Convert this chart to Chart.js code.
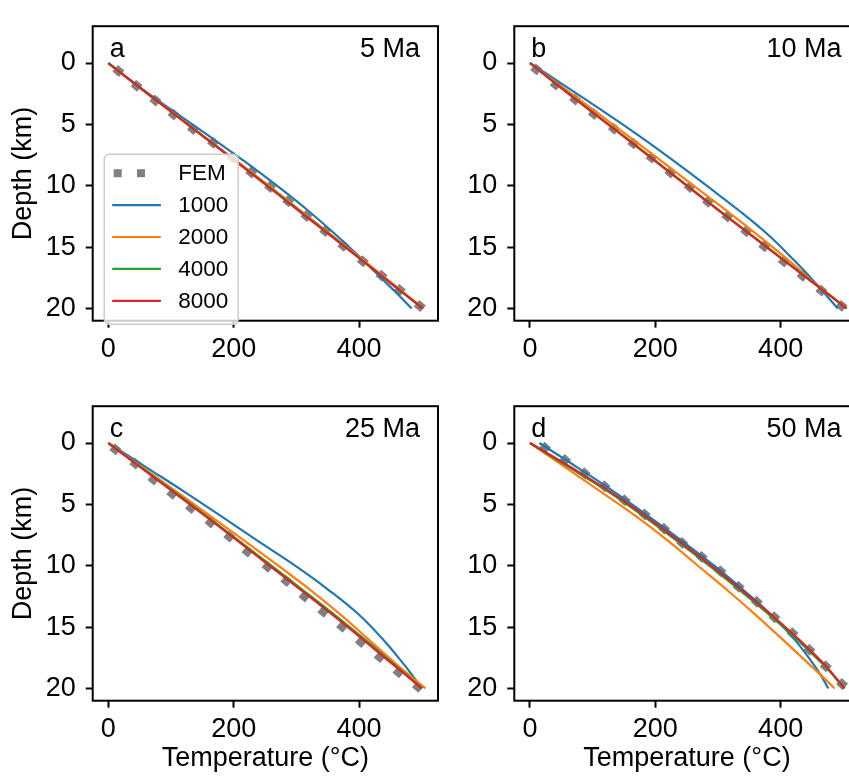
<!DOCTYPE html>
<html>
<head>
<meta charset="utf-8">
<script src="https://cdn.jsdelivr.net/npm/chart.js@4.4.1/dist/chart.umd.min.js"></script>
<style>
  html, body { margin: 0; padding: 0; background: #fff; overflow: hidden; width: 849px; height: 777px; }
  canvas { position: absolute; }
</style>
</head>
<body>
<canvas id="chartA" width="449" height="380" style="left:0px;top:0px"></canvas>
<canvas id="chartB" width="449" height="380" style="left:420px;top:0px"></canvas>
<canvas id="chartC" width="449" height="397" style="left:0px;top:380px"></canvas>
<canvas id="chartD" width="449" height="397" style="left:420px;top:380px"></canvas>
<script>
// depth (km) at which the model curves were read
const depthKm = [0, 2, 4, 6, 8, 10, 12, 14, 16, 18, 19, 20];
const xTicks = [0, 200, 400];
const yTicks = [0, 5, 10, 15, 20];
const seriesLabels = ['1000', '2000', '4000', '8000'];
const seriesColors = ['#1f77b4', '#ff7f0e', '#2ca02c', '#d62728'];

// a - 5 Ma (temperature, °C)
const a1000 = [0, 51, 106, 162, 217, 269, 318, 363, 405, 445, 465, 484];
const a2000 = [0, 50, 102, 153, 205, 256, 306, 356, 405, 454, 478, 503];
const a4000 = [0, 50, 101, 152, 203, 254, 304, 354, 403, 452, 477, 502];
const a8000 = [0, 50, 101, 152, 203, 253, 303, 353, 403, 452, 477, 502];
const aFemDepth = [0.65, 1.85, 3.05, 4.2, 5.38, 6.5, 7.7, 8.92, 10.1, 11.27, 12.47, 13.7, 14.9, 16.15, 17.33, 18.5, 19.8];
const aFemTemp = [16, 45, 75, 104, 135, 167, 198, 228, 258, 287, 316, 346, 375, 406, 436, 465, 497];

// b - 10 Ma
const b1000 = [0, 60, 119, 176, 230, 282, 333, 380, 420, 457, 474, 491];
const b2000 = [0, 53, 106, 158, 210, 261, 313, 363, 411, 456, 481, 506];
const b4000 = [0, 50, 100, 151, 201, 251, 302, 353, 404, 455, 480, 505];
const b8000 = [0, 49, 99, 150, 200, 250, 301, 352, 403, 454, 480, 505];
const bFemDepth = [0.52, 1.76, 2.98, 4.15, 5.36, 6.55, 7.71, 8.93, 10.1, 11.3, 12.5, 13.71, 14.93, 16.17, 17.33, 18.55, 19.79];
const bFemTemp = [10, 41, 72, 102, 134, 165, 194, 224, 255, 284, 315, 345, 374, 405, 435, 465, 497];

// c - 25 Ma
const c1000 = [0, 61, 122, 181, 239, 298, 352, 400, 438, 471, 486, 500];
const c2000 = [0, 55, 110, 164, 218, 271, 323, 371, 415, 459, 482, 506];
const c4000 = [0, 53, 106, 158, 209, 260, 311, 361, 409, 455, 478, 501];
const c8000 = [0, 52, 104, 156, 207, 257, 308, 358, 406, 453, 477, 500];
const cFemDepth = [0.52, 1.68, 2.98, 4.14, 5.3, 6.47, 7.63, 8.85, 10.09, 11.25, 12.5, 13.75, 14.98, 16.22, 17.45, 18.68, 19.87];
const cFemTemp = [11, 43, 72, 102, 132, 163, 193, 222, 254, 284, 313, 343, 373, 403, 433, 463, 494];

// d - 50 Ma
const d1000 = [15, 76, 135, 190, 243, 294, 341, 385, 422, 452, 465, 476];
const d2000 = [0, 57, 114, 170, 221, 268, 315, 360, 403, 445, 466, 486];
const d4000 = [0, 63, 126, 182, 235, 286, 335, 382, 426, 467, 485, 501];
const d8000 = [0, 66, 129, 185, 238, 289, 338, 385, 429, 469, 486, 502];
const dFemDepth = [0.39, 1.38, 2.46, 3.52, 4.66, 5.82, 6.99, 8.15, 9.28, 10.44, 11.72, 12.94, 14.2, 15.5, 16.85, 18.2, 19.64];
const dFemTemp = [24, 56, 87, 119, 151, 183, 214, 243, 274, 304, 333, 362, 390, 419, 446, 472, 498];

const FONT = '"Liberation Sans", Arial, sans-serif';
Chart.defaults.font.family = FONT;
Chart.defaults.color = '#000';

function pts(temps, depths) {
    return temps.map((t, i) => ({x: t, y: depths[i]}));
}

// box round the axes + panel letter and age
const framePlugin = {
    id: 'frame',
    afterDraw(chart, args, opts) {
        const {ctx, chartArea: ca} = chart;
        ctx.save();
        ctx.strokeStyle = '#000';
        ctx.lineWidth = 2;
        ctx.strokeRect(ca.left, ca.top, ca.right - ca.left, ca.bottom - ca.top);
        ctx.fillStyle = '#000';
        ctx.font = '27px ' + FONT;
        ctx.textBaseline = 'alphabetic';
        ctx.textAlign = 'left';
        ctx.fillText(opts.letter, ca.left + 17, ca.top + 31);
        ctx.textAlign = 'right';
        ctx.fillText(opts.age, ca.right - 18, ca.top + 31);
        ctx.restore();
    }
};

// matplotlib-like legend inside the axes
const insideLegend = {
    id: 'insideLegend',
    afterDraw(chart, args, opts) {
        if (!opts.show) return;
        const {ctx, chartArea: ca} = chart;
        const x0 = ca.left + 11.5, y0 = ca.top + 128, w = 134, h = 170;
        ctx.save();
        ctx.beginPath();
        ctx.roundRect(x0, y0, w, h, 5);
        ctx.fillStyle = 'rgba(255,255,255,0.8)';
        ctx.fill();
        ctx.strokeStyle = '#cccccc';
        ctx.lineWidth = 1.5;
        ctx.stroke();
        ctx.font = '22.5px ' + FONT;
        ctx.textBaseline = 'middle';
        ctx.textAlign = 'left';
        chart.data.datasets.forEach((ds, i) => {
            const y = y0 + 19 + i * 31.9;
            if (ds.showLine === false) {
                ctx.fillStyle = ds.backgroundColor;
                ctx.fillRect(x0 + 9.5, y - 4, 8, 8);
                ctx.fillRect(x0 + 32.8, y - 4, 8, 8);
            } else {
                ctx.strokeStyle = ds.borderColor;
                ctx.lineWidth = 2.2;
                ctx.beginPath();
                ctx.moveTo(x0 + 8, y);
                ctx.lineTo(x0 + 56.7, y);
                ctx.stroke();
            }
            ctx.fillStyle = '#000';
            ctx.fillText(ds.label, x0 + 74, y + 1);
        });
        ctx.restore();
    }
};

function makePanel(id, cfg) {
    const series = [cfg.s1000, cfg.s2000, cfg.s4000, cfg.s8000];
    const datasets = [{
        label: 'FEM',
        data: pts(cfg.femTemp, cfg.femDepth),
        showLine: false,
        pointStyle: 'rect',
        pointRadius: 6,
        pointRotation: cfg.rot,
        pointBorderWidth: 0,
        backgroundColor: '#808080',
        borderColor: '#808080',
        order: 5
    }];
    series.forEach((s, i) => {
        datasets.push({
            label: seriesLabels[i],
            data: pts(s, depthKm),
            showLine: true,
            borderColor: seriesColors[i],
            backgroundColor: seriesColors[i],
            borderWidth: 2.2,
            pointRadius: 0,
            tension: 0.4,
            order: 4 - i
        });
    });

    const tickFont = {size: 27, family: FONT};
    new Chart(document.getElementById(id), {
        type: 'scatter',
        data: {datasets: datasets},
        options: {
            responsive: false,
            animation: false,
            events: [],
            layout: {padding: {left: 0, top: cfg.padTop, right: cfg.padRight, bottom: 0}},
            plugins: {
                legend: {display: false},
                tooltip: {enabled: false},
                frame: {letter: cfg.letter, age: cfg.age},
                insideLegend: {show: cfg.legend}
            },
            scales: {
                x: {
                    type: 'linear',
                    min: -25,
                    max: 526,
                    afterBuildTicks: s => { s.ticks = xTicks.map(v => ({value: v})); },
                    afterFit: s => { s.height = cfg.xHeight; },
                    grid: {drawOnChartArea: false, drawTicks: true, tickLength: 7, tickWidth: 2, tickColor: '#000'},
                    border: {display: false},
                    ticks: {font: tickFont, color: '#000', padding: 6, maxRotation: 0},
                    title: {display: cfg.xTitle, text: 'Temperature (°C)', font: tickFont, color: '#000', padding: {top: 0, bottom: 2}}
                },
                y: {
                    type: 'linear',
                    min: -3,
                    max: 21,
                    reverse: true,
                    afterBuildTicks: s => { s.ticks = yTicks.map(v => ({value: v})); },
                    afterFit: s => { s.width = cfg.yWidth; },
                    grid: {drawOnChartArea: false, drawTicks: true, tickLength: 7, tickWidth: 2, tickColor: '#000'},
                    border: {display: false},
                    ticks: {font: tickFont, color: '#000', padding: 10},
                    title: {display: cfg.yTitle, text: 'Depth (km)', font: tickFont, color: '#000', padding: {top: 7, bottom: 0}}
                }
            }
        },
        plugins: [framePlugin, insideLegend]
    });
}

makePanel('chartA', {s1000: a1000, s2000: a2000, s4000: a4000, s8000: a8000, femTemp: aFemTemp, femDepth: aFemDepth,
    letter: 'a', age: '5 Ma', legend: true, xTitle: false, yTitle: true, rot: 40,
    padTop: 12, padRight: 11, yWidth: 92.7, xHeight: 59.3});
makePanel('chartB', {s1000: b1000, s2000: b2000, s4000: b4000, s8000: b8000, femTemp: bFemTemp, femDepth: bFemDepth,
    letter: 'b', age: '10 Ma', legend: false, xTitle: false, yTitle: false, rot: 40,
    padTop: 12, padRight: 9.4, yWidth: 94.3, xHeight: 59.3});
makePanel('chartC', {s1000: c1000, s2000: c2000, s4000: c4000, s8000: c8000, femTemp: cFemTemp, femDepth: cFemDepth,
    letter: 'c', age: '25 Ma', legend: false, xTitle: true, yTitle: true, rot: 40,
    padTop: 11.7, padRight: 11, yWidth: 92.7, xHeight: 76.3});
makePanel('chartD', {s1000: d1000, s2000: d2000, s4000: d4000, s8000: d8000, femTemp: dFemTemp, femDepth: dFemDepth,
    letter: 'd', age: '50 Ma', legend: false, xTitle: true, yTitle: false, rot: 42,
    padTop: 11.7, padRight: 9.4, yWidth: 94.3, xHeight: 76.3});
</script>
</body>
</html>
